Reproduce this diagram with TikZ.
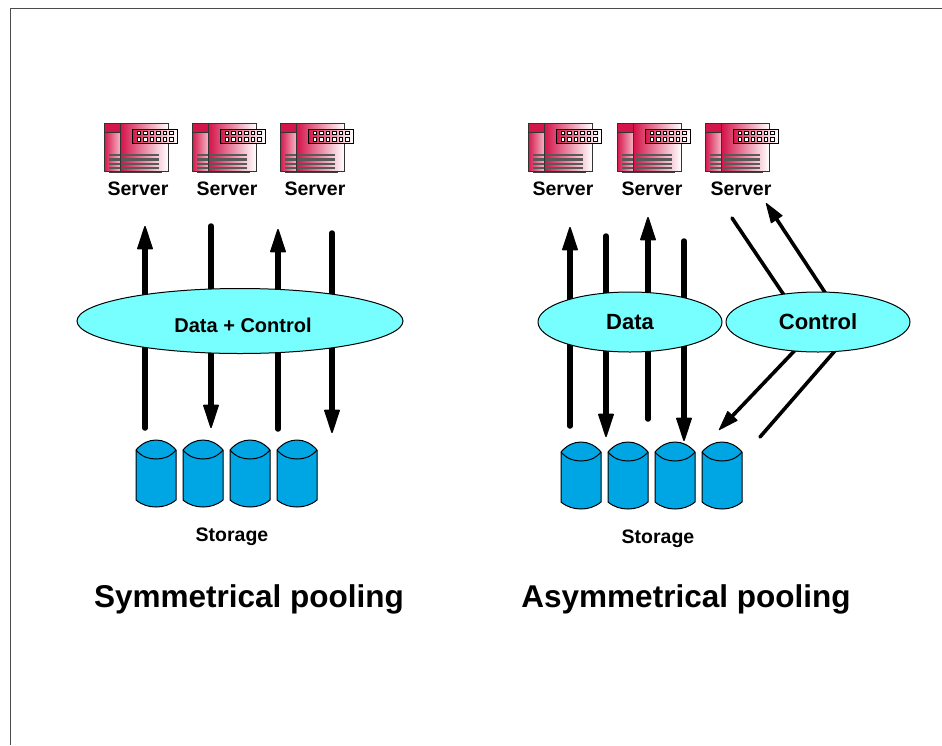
\documentclass[tikz,border=0pt]{standalone}
\usepackage{fontspec}
\setmainfont{Liberation Sans}
\usetikzlibrary{arrows.meta,shapes.geometric}
\definecolor{cyl}{HTML}{00A6E4}
\definecolor{ell}{HTML}{77FFFF}
\definecolor{srv}{HTML}{D4154A}
\definecolor{srvl}{HTML}{F08CA6}
\tikzset{
  x=1pt,y=-1pt,
  lbl/.style={font=\bfseries\fontsize{19.5}{22}\selectfont,inner sep=0pt},
  ttl/.style={font=\bfseries\fontsize{31.5}{35}\selectfont,inner sep=0pt},
  bub/.style={ellipse,draw=black,line width=1pt,fill=ell,inner sep=0pt},
  fat/.style={line width=5.5pt,draw=black,line cap=round},
  fatarrow/.style={fat,-{Triangle[length=25pt,width=16pt,line width=1.5pt,round]}},
  thin line/.style={line width=3.6pt,draw=black,line cap=round},
  thinarrow/.style={thin line,-{Triangle[length=21pt,width=14pt,line width=1pt,round]}},
  pics/serverpic/.style={code={
    \fill[black!75] (5,48) rectangle (58,51);
    \shade[left color=srv,right color=white,draw=black!80,line width=.8pt] (16.7,1) rectangle (64,49);
    \shade[left color=srv,right color=srvl!60,draw=black!80,line width=.8pt] (0,1) rectangle (16.7,49);
    \shade[left color=srv,middle color=srvl!30,right color=srv,draw=black!80,line width=.8pt] (0,1) rectangle (16.7,10);
    \foreach \yy in {33,37.5,42,46}{
      \draw[black!65,line width=2.2pt] (5,\yy) -- (16,\yy);
      \draw[black!65,line width=2.2pt] (18,\yy) -- (55,\yy);
    }
    \shade[left color=srv,right color=white,draw=black,line width=.8pt] (28,7) rectangle (73,21);
    \foreach \xx in {35,41.5,48,54.5,61,67.5}\foreach \yy in {11,17.5}{
      \fill[white,draw=black,line width=1pt] (\xx-1.6,\yy-1.6) rectangle (\xx+1.6,\yy+1.6);
    }
  }},
  pics/diskpic/.style={code={
    \draw[fill=cyl,draw=black,line width=1pt] (0,10) -- (0,60) .. controls (6,65) and (13,67) .. (20,67) .. controls (27,67) and (34,65) .. (40,60) -- (40,10) .. controls (34,3) and (27,0) .. (20,0) .. controls (13,0) and (6,3) .. (0,10) -- cycle;
    \draw[black,line width=1pt] (0,10) .. controls (6,17) and (13,19) .. (20,19) .. controls (27,19) and (34,17) .. (40,10);
  }}
}
\begin{document}
\begin{tikzpicture}
\useasboundingbox (0,0) rectangle (942,745);
\coordinate (fA) at (10,745); \coordinate (fB) at (10,8); \coordinate (fC) at (942,8);
\draw[black!70,line width=1pt] (fA) -- (fB) -- (fC);

% servers
\foreach \n/\x in {a/104,b/192,c/280,d/528,e/617,f/705}{
  \pic (s\n) at (\x,122) {serverpic};
}
\foreach \n/\x in {a/138,b/227,c/315,d/563,e/652,f/741}{
  \node[lbl] (ls\n) at (\x,189) {Server};
}

% connector end points
\foreach \n/\x/\y in {a1/145/428,a2/145/226,b1/211/226,b2/211/428,c1/278/429,c2/278/229,d1/332/233,d2/332/433,
  e1/570/426,e2/570/227,f1/606/236,f2/606/437,g1/648/419,g2/648/217,h1/684/241,h2/684/441,
  i1/732/218,i2/790/304,j1/830/300,j2/766/203,k1/840/345,k2/760/437,l1/800/345,l2/719/430}{
  \coordinate (\n) at (\x,\y);
}
\draw[fatarrow] (a1) -- (a2);
\draw[fatarrow] (b1) -- (b2);
\draw[fatarrow] (c1) -- (c2);
\draw[fatarrow] (d1) -- (d2);
\draw[fatarrow] (e1) -- (e2);
\draw[fatarrow] (f1) -- (f2);
\draw[fatarrow] (g1) -- (g2);
\draw[fatarrow] (h1) -- (h2);
\draw[thin line] (i1) -- (i2);
\draw[thinarrow] (j1) -- (j2);
\draw[thin line] (k1) -- (k2);
\draw[thinarrow] (l1) -- (l2);

% ellipses
\node[bub,minimum width=326pt,minimum height=65pt] (dc) at (240,321) {};
\node[font=\bfseries\fontsize{20}{22}\selectfont,inner sep=0pt] (dct) at (243,325) {Data + Control};
\node[bub,minimum width=184pt,minimum height=60pt,font=\bfseries\fontsize{22}{24}\selectfont] (data) at (630,322) {Data};
\node[bub,minimum width=184pt,minimum height=60pt,font=\bfseries\fontsize{22}{24}\selectfont] (ctrl) at (818,322) {Control};

% disks
\foreach \n/\x in {a/136,b/183,c/230,d/277}{ \pic (d\n) at (\x,440) {diskpic}; }
\foreach \n/\x in {e/561,f/608,g/655,h/702}{ \pic (d\n) at (\x,442) {diskpic}; }

\node[lbl] (st1) at (232,537) {Storage};
\node[lbl] (st2) at (658,539) {Storage};
\node[ttl] (t1) at (249,599) {Symmetrical pooling};
\node[ttl] (t2) at (686,599) {Asymmetrical pooling};
\end{tikzpicture}
\end{document}
